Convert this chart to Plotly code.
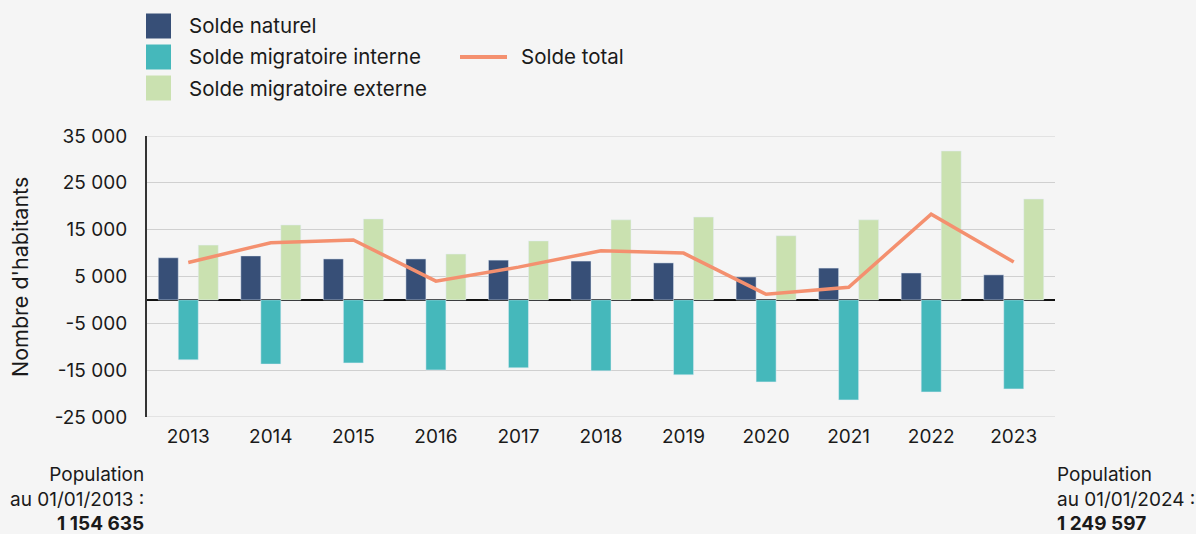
import plotly.graph_objects as go

years = ["2013", "2014", "2015", "2016", "2017", "2018", "2019", "2020", "2021", "2022", "2023"]
solde_naturel = [9000, 9400, 8750, 8750, 8500, 8300, 7900, 4900, 6800, 5750, 5350]
solde_interne = [-12800, -13700, -13450, -14950, -14500, -15150, -16000, -17500, -21350, -19650, -19000]
solde_externe = [11700, 16000, 17300, 9800, 12600, 17100, 17700, 13700, 17100, 31800, 21550]
solde_total = [8000, 12200, 12800, 4000, 7000, 10500, 10000, 1200, 2700, 18300, 8100]

y_tick_values = [-25000, -15000, -5000, 5000, 15000, 25000, 35000]
y_tick_labels = ["-25 000", "-15 000", "-5 000", "5 000", "15 000", "25 000", "35 000"]

legend_labels = ["Solde naturel", "Solde migratoire interne", "Solde migratoire externe"]
line_label = "Solde total"
y_title = "Nombre d'habitants"
pop_start_lines = ["Population", "au 01/01/2013 :", "<b>1 154 635</b>"]
pop_end_lines = ["Population", "au 01/01/2024 :", "<b>1 249 597</b>"]

C_NAT = "#374f77"
C_INT = "#45b8bb"
C_EXT = "#cae1b0"
C_TOT = "#f4906f"
BG = "#f5f5f5"
GRID = "#d0d0d0"
FONT = "Inter"
TXT = "#1a1a1a"

W, H = 1196, 534
L, R, T, B = 147, 141, 136, 117
PW, PH = W - L - R, H - T - B

def px(x):
    return (x - L) / PW

def py(y):
    return (H - B - y) / PH

fig = go.Figure()
fig.add_trace(go.Bar(x=years, y=solde_naturel, name=legend_labels[0], marker_color=C_NAT, showlegend=False))
fig.add_trace(go.Bar(x=years, y=solde_interne, name=legend_labels[1], marker_color=C_INT, showlegend=False))
fig.add_trace(go.Bar(x=years, y=solde_externe, name=legend_labels[2], marker_color=C_EXT, showlegend=False))
fig.add_trace(go.Scatter(x=years, y=solde_total, name=line_label, mode="lines",
                         line=dict(color=C_TOT, width=3.5), showlegend=False))

shapes = []
annotations = []
# edge gridlines (top and bottom ticks)
for v in (y_tick_values[0], y_tick_values[-1]):
    shapes.append(dict(type="line", xref="paper", yref="y", x0=0, x1=1, y0=v, y1=v,
                       line=dict(color=GRID, width=1), layer="below"))
# manual legend
rows = [26, 57, 88]
for lab, col, yc in zip(legend_labels, [C_NAT, C_INT, C_EXT], rows):
    shapes.append(dict(type="rect", xref="paper", yref="paper",
                       x0=px(146), x1=px(171), y0=py(yc + 12.5), y1=py(yc - 12.5),
                       fillcolor=col, line=dict(width=0), layer="above"))
    annotations.append(dict(text=lab, xref="paper", yref="paper", x=px(187), y=py(yc),
                            xanchor="left", yanchor="middle", showarrow=False,
                            font=dict(size=20.5, color=TXT, family=FONT)))
shapes.append(dict(type="line", xref="paper", yref="paper", x0=px(460), x1=px(507),
                   y0=py(57), y1=py(57), line=dict(color=C_TOT, width=4)))
annotations.append(dict(text=line_label, xref="paper", yref="paper", x=px(519), y=py(57),
                        xanchor="left", yanchor="middle", showarrow=False,
                        font=dict(size=20.5, color=TXT, family=FONT)))

# y axis title
annotations.append(dict(text=y_title, xref="paper", yref="paper", x=px(20), y=py(277),
                        xanchor="center", yanchor="middle", textangle=-90, showarrow=False,
                        font=dict(size=21.5, color=TXT, family=FONT)))

# population annotations
annotations.append(dict(text="<br>".join(pop_start_lines), xref="paper", yref="paper",
                        x=px(146), y=py(461), xanchor="right", yanchor="top", align="right",
                        showarrow=False, font=dict(size=19, color=TXT, family=FONT)))
annotations.append(dict(text="<br>".join(pop_end_lines), xref="paper", yref="paper",
                        x=px(1055), y=py(461), xanchor="left", yanchor="top", align="left",
                        showarrow=False, font=dict(size=19, color=TXT, family=FONT)))

fig.update_layout(
    width=W, height=H,
    margin=dict(l=L, r=R, t=T, b=B, pad=0),
    paper_bgcolor=BG, plot_bgcolor=BG,
    barmode="group", bargap=0.273, bargroupgap=0,
    font=dict(family=FONT, size=19, color=TXT),
    shapes=shapes, annotations=annotations,
    showlegend=False,
)
fig.update_xaxes(type="category", showgrid=False, showline=False, zeroline=False,
                 ticks="", tickfont=dict(size=19, color=TXT), ticklabelstandoff=6)
fig.update_yaxes(range=[y_tick_values[0], y_tick_values[-1]], tickmode="array",
                 tickvals=y_tick_values, ticktext=y_tick_labels,
                 showgrid=True, gridcolor=GRID, gridwidth=1,
                 zeroline=True, zerolinecolor="#111111", zerolinewidth=1.5,
                 showline=True, linecolor="#333333", linewidth=2,
                 ticks="", ticklabelstandoff=14, tickfont=dict(size=19, color=TXT))

fig.write_html("out.html", config={"displayModeBar": False},
               post_script="document.body.style.margin='0';")
